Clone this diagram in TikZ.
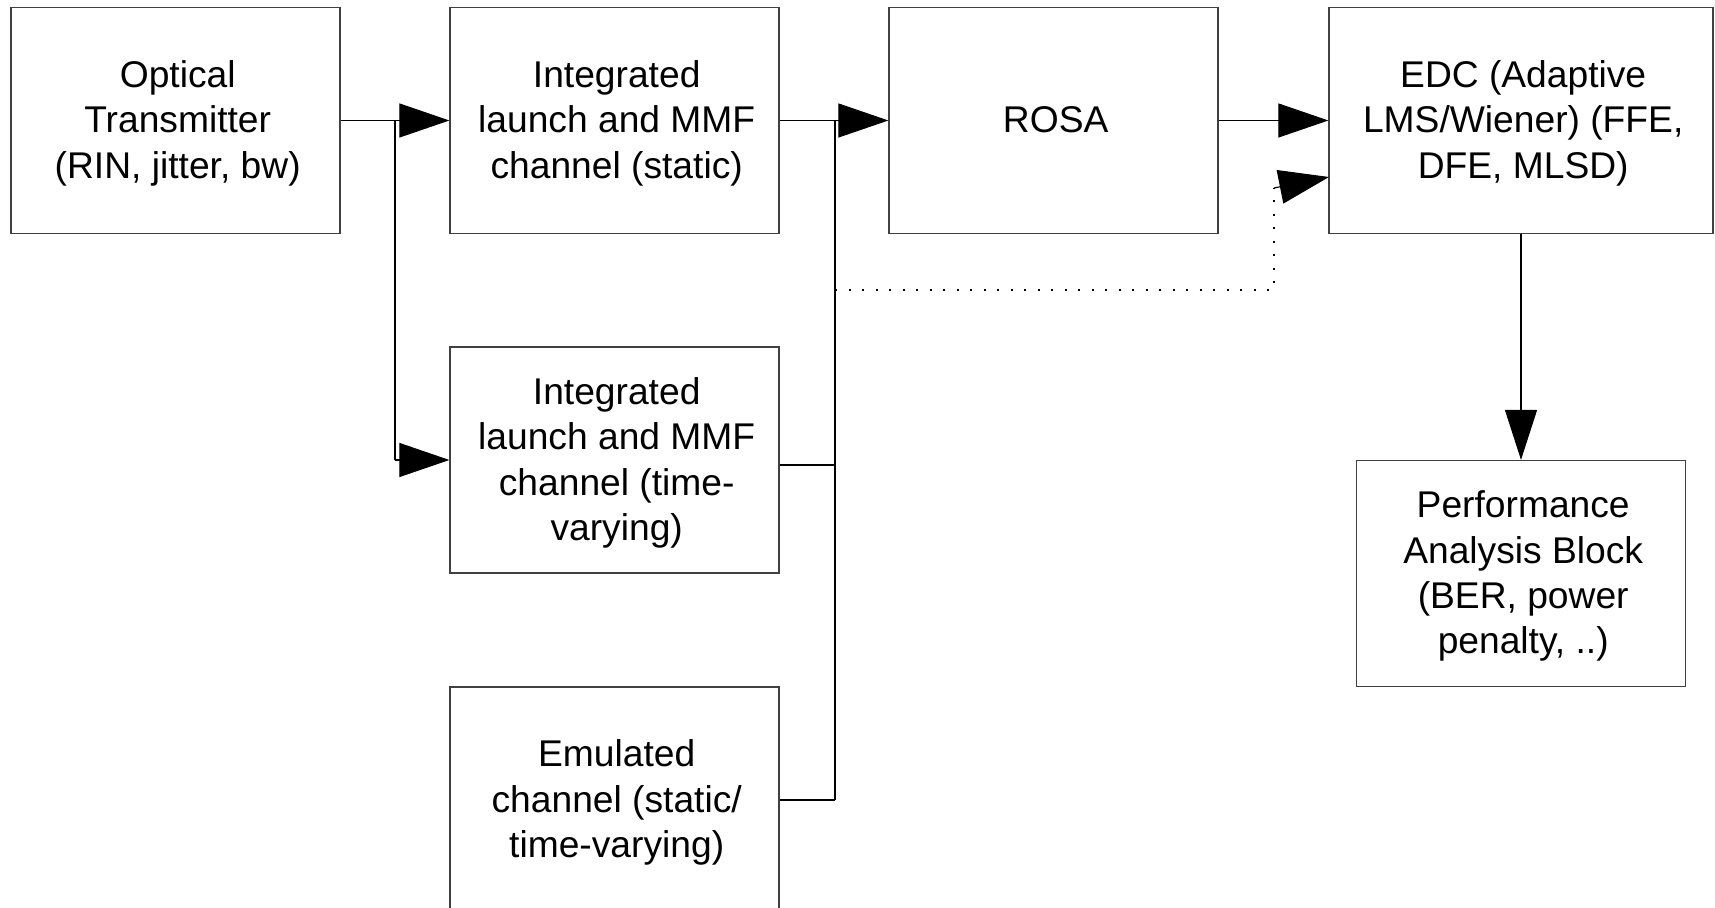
\documentclass[tikz,border=0pt]{standalone}
\usepackage{fontspec}
\setmainfont{Liberation Sans}
\usetikzlibrary{arrows.meta}
% centred multi-line label, nudged slightly down and right inside its box
\newcommand{\blocktext}[1]{\raisebox{0pt}[\dimexpr\height+3.3pt][\depth]{%
  \hspace*{2.2pt}\begin{tabular}{@{}c@{}}#1\end{tabular}}}
\tikzset{
  block/.style={draw=black!75, line width=0.6pt, minimum width=164.5pt, minimum height=113pt,
    align=center, inner sep=0pt, font=\fontsize{18.6pt}{22.7pt}\selectfont},
  wire/.style={draw=black, line width=0.55pt},
  flow/.style={wire, -{Triangle[length=25pt, width=17pt]}},
  dots/.style={draw=black, line width=1pt, dash pattern=on 1pt off 5.75pt}
}
\begin{document}
\begin{tikzpicture}[x=0.5pt, y=-0.5pt]
\clip (0,0) rectangle (1715,908);
\fill[white] (0,0) rectangle (1715,908);

% signal chain blocks
\node[block] (tx)   at (175.5,120.5) {\blocktext{Optical\\Transmitter\\(RIN, jitter, bw)}};
\node[block] (st)   at (614.5,120.5) {\blocktext{Integrated\\launch and MMF\\channel (static)}};
\node[block] (tv)   at (614.5,460)   {\blocktext{Integrated\\launch and MMF\\channel (time-\\varying)}};
\node[block] (emu)  at (614.5,800)   {\blocktext{Emulated\\channel (static/\\time-varying)}};
\node[block] (rosa) at (1053.5,120.5) {\blocktext{ROSA}};
\node[block, minimum width=192pt] (edc) at (1521,120.5) {\blocktext{EDC (Adaptive\\LMS/Wiener) (FFE,\\DFE, MLSD)}};
\node[block] (perf) at (1521,573.5) {\blocktext{Performance\\Analysis Block\\(BER, power\\penalty, ..)}};

% branch points
\coordinate (j1) at (395,120.5);
\coordinate (j1b) at (395,460);
\coordinate (j2) at (835,120.5);
\coordinate (j2t) at (835,465);
\coordinate (j2e) at (835,800);
\coordinate (d0) at (835,290);
\coordinate (d1) at (1274,290);
\coordinate (d2) at (1274,188);
\coordinate (edcin) at (1329,177);

% transmitter fan-out
\draw[wire] (tx.east) -- (j1);
\draw[flow] (j1) -- (st.west);
\draw[wire] (j1) -- (j1b);
\draw[flow] (j1b) -- (tv.west);

% channel outputs merge into the receiver
\draw[wire] (st.east) -- (j2);
\draw[flow] (j2) -- (rosa.west);
\draw[wire] (j2) -- (j2e);
\draw[wire] (tv.east |- j2t) -- (j2t);
\draw[wire] (emu.east) -- (j2e);

% bypass path straight to the equaliser
\draw[dots] (d0) -- (d1) -- (d2);
\draw[flow] (d2) -- (edcin);

% receiver to equaliser to analysis
\draw[flow] (rosa.east) -- (edc.west);
\draw[wire, -{Triangle[length=25pt, width=16pt]}] (edc.south) -- (perf.north);
\end{tikzpicture}
\end{document}
